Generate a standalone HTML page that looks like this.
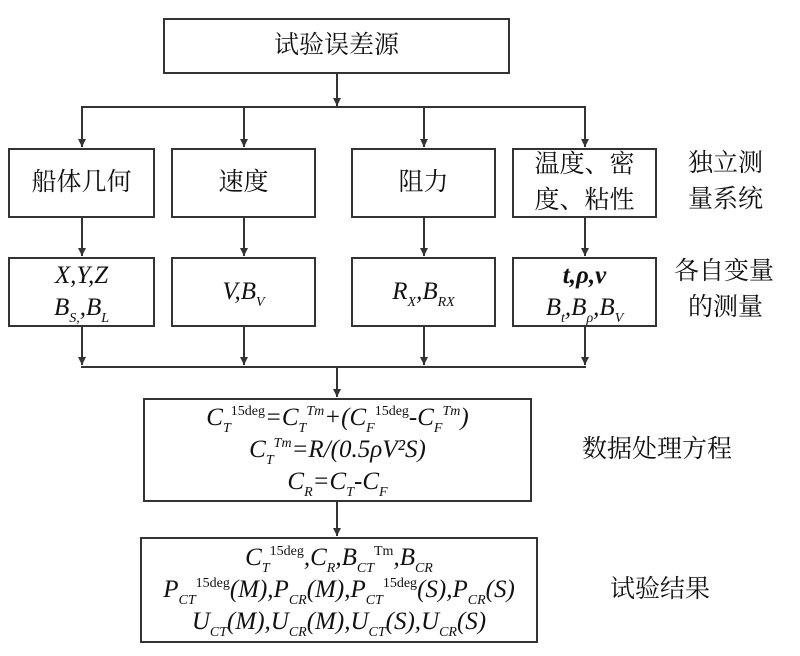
<!DOCTYPE html>
<html><head><meta charset="utf-8"><style>
body{margin:0;width:800px;height:656px;background:#fff;position:relative;overflow:hidden}
.b{position:absolute;border:2px solid #333;box-sizing:border-box;display:flex;flex-direction:column;align-items:center;justify-content:center;text-align:center;font-family:"Liberation Serif","Noto Serif CJK SC",serif;color:#111}
.c{font-family:"Liberation Serif","Noto Serif CJK SC",serif;font-size:25px;line-height:36px}
.m{font-style:italic;font-size:25px;line-height:32px;white-space:nowrap}
.m sub,.m sup{font-size:14px;line-height:0;position:relative;vertical-align:baseline}
.m sub{top:7px}
.m sup{top:-10px;font-style:normal}
.l{position:absolute;font-family:"Liberation Serif","Noto Serif CJK SC",serif;font-size:25px;line-height:36px;color:#111}
svg{position:absolute;left:0;top:0}
</style></head><body>
<svg width="800" height="656">
<defs><marker id="a" markerWidth="8" markerHeight="8" refX="8" refY="4" orient="auto" markerUnits="userSpaceOnUse"><path d="M0,0 L8,4 L0,8z" fill="#333"/></marker></defs>
<g stroke="#333" stroke-width="2" fill="none">
<line x1="337" y1="73" x2="337" y2="106" marker-end="url(#a)"/>
<line x1="81" y1="107" x2="586" y2="107"/>
<line x1="82" y1="107" x2="82" y2="147" marker-end="url(#a)"/>
<line x1="244" y1="107" x2="244" y2="147" marker-end="url(#a)"/>
<line x1="424" y1="107" x2="424" y2="147" marker-end="url(#a)"/>
<line x1="585" y1="107" x2="585" y2="147" marker-end="url(#a)"/>
<line x1="82" y1="217" x2="82" y2="256" marker-end="url(#a)"/>
<line x1="244" y1="217" x2="244" y2="256" marker-end="url(#a)"/>
<line x1="424" y1="217" x2="424" y2="256" marker-end="url(#a)"/>
<line x1="585" y1="217" x2="585" y2="256" marker-end="url(#a)"/>
<line x1="82" y1="326" x2="82" y2="365" marker-end="url(#a)"/>
<line x1="244" y1="326" x2="244" y2="365" marker-end="url(#a)"/>
<line x1="424" y1="326" x2="424" y2="365" marker-end="url(#a)"/>
<line x1="585" y1="326" x2="585" y2="365" marker-end="url(#a)"/>
<line x1="81" y1="367" x2="586" y2="367"/>
<line x1="337" y1="367" x2="337" y2="397" marker-end="url(#a)"/>
<line x1="337" y1="502" x2="337" y2="536" marker-end="url(#a)"/>
</g></svg>
<div class="b c" style="left:163px;top:18px;width:347px;height:56px">试验误差源</div>
<div class="b c" style="left:8px;top:148px;width:147px;height:70px">船体几何</div>
<div class="b c" style="left:171px;top:148px;width:145px;height:70px">速度</div>
<div class="b c" style="left:351px;top:148px;width:145px;height:70px">阻力</div>
<div class="b c" style="left:512px;top:148px;width:145px;height:70px">温度、密<br>度、粘性</div>
<div class="b m" style="left:8px;top:257px;width:147px;height:70px"><div>X,Y,Z</div><div>B<sub>S,</sub>,B<sub>L</sub></div></div>
<div class="b m" style="left:171px;top:257px;width:145px;height:70px"><div>V,B<sub>V</sub></div></div>
<div class="b m" style="left:351px;top:257px;width:145px;height:70px"><div>R<sub>X</sub>,B<sub>RX</sub></div></div>
<div class="b m" style="left:512px;top:257px;width:145px;height:70px"><div><b>t,ρ,v</b></div><div>B<sub>t</sub>,B<sub>ρ</sub>,B<sub>V</sub></div></div>
<div class="b m" style="left:143px;top:398px;width:389px;height:104px"><div>C<sub>T</sub><sup>15deg</sup>=C<sub>T</sub><sup><i>Tm</i></sup>+(C<sub>F</sub><sup>15deg</sup>-C<sub>F</sub><sup><i>Tm</i></sup>)</div><div>C<sub>T</sub><sup><i>Tm</i></sup>=R/(0.5ρV²S)</div><div>C<sub>R</sub>=C<sub>T</sub>-C<sub>F</sub></div></div>
<div class="b m" style="left:140px;top:537px;width:398px;height:106px"><div>C<sub>T</sub><sup>15deg</sup>,C<sub>R</sub>,B<sub>CT</sub><sup>Tm</sup>,B<sub>CR</sub></div><div>P<sub>CT</sub><sup>15deg</sup>(M),P<sub>CR</sub>(M),P<sub>CT</sub><sup>15deg</sup>(S),P<sub>CR</sub>(S)</div><div>U<sub>CT</sub>(M),U<sub>CR</sub>(M),U<sub>CT</sub>(S),U<sub>CR</sub>(S)</div></div>
<div class="l" style="left:688px;top:146px">独立测<br>量系统</div>
<div class="l" style="left:674px;top:254px">各自变量<br><span style="padding-left:14px">的测量</span></div>
<div class="l" style="left:582px;top:432px">数据处理方程</div>
<div class="l" style="left:610px;top:572px">试验结果</div>
</body></html>
